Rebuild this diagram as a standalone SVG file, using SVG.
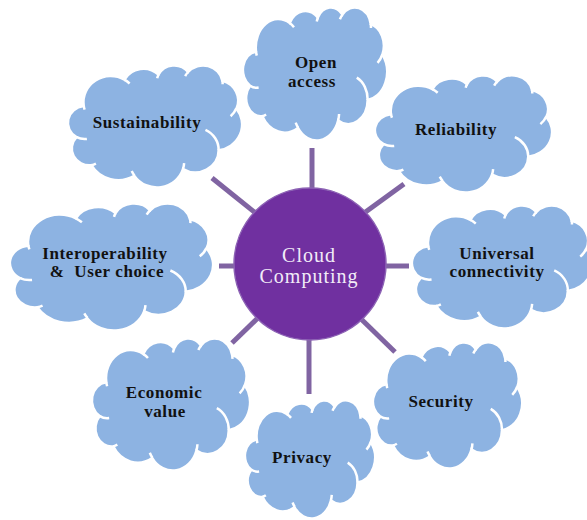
<svg xmlns="http://www.w3.org/2000/svg" xmlns:xlink="http://www.w3.org/1999/xlink" width="587" height="520" viewBox="0 0 587 520">
<style>
.cf{fill:#8DB3E2;stroke:#FFFFFF;stroke-width:2.5}
.ci{fill:none;stroke:#FFFFFF;stroke-width:2.5}
.lbl{font-family:"Liberation Serif","Times New Roman",serif;font-weight:bold;font-size:17px;letter-spacing:0.6px;fill:#111111;text-anchor:middle}
.ctr{font-family:"Liberation Serif","Times New Roman",serif;font-size:20px;letter-spacing:1px;fill:#F2ECF8;text-anchor:middle}
.conn{stroke:#8064A2;stroke-width:5;fill:none}
</style>
<defs>
<path id="cloud" vector-effect="non-scaling-stroke" d="M39,143.7 A67.5 91.9 0 0 1 140.1,52 A53.3 72.7 0 0 1 224.6,34.3 A43.7 59.5 0 0 1 298.3,24.8 A48.6 66 0 0 1 383.2,55.8 A53.3 72.7 0 0 1 418.2,154.6 A67.8 92.2 0 0 1 374,302.1 A57.9 78.7 0 0 1 285.6,368.2 A67.5 92.2 0 0 1 164.8,392.7 A77.2 105.4 0 0 1 58,354.7 A43.6 59.2 0 0 1 21.1,255.5 A43.5 59.5 0 0 1 38.6,145.1 Z"/>
<path id="cloudInner" vector-effect="non-scaling-stroke" d="M46.9,261.8 A43.5 59.5 0 0 1 21.1,255.5 M69.3,349 A43.6 59.2 0 0 1 58,354.7 M164.8,390.9 A67.5 92.2 0 0 1 158.1,375.3 M288.3,347.5 A67.5 92.2 0 0 1 285.6,368.2 M341.3,229.5 A57.9 78.7 0 0 1 374,302.1 M418,153.5 A53.3 72.7 0 0 1 403.7,181.4 M383.2,54.3 A48.6 66 0 0 1 383.9,68.4 M290.8,39.5 A48.6 66 0 0 1 298.3,24.8 M221.4,47.2 A43.7 59.5 0 0 1 224.6,34.3 M140,51.9 A67.5 91.9 0 0 1 153,65.5 M41.3,157.9 A67.5 91.9 0 0 1 39,143.7"/>
</defs>
<g id="connectors">
<line class="conn" x1="312" y1="148" x2="312" y2="192"/>
<line class="conn" x1="384" y1="266" x2="409" y2="266"/>
<line class="conn" x1="309" y1="336" x2="309" y2="394"/>
<line class="conn" x1="219" y1="266" x2="236" y2="266"/>
<line class="conn" x1="212" y1="178" x2="258" y2="215"/>
<line class="conn" x1="404" y1="184" x2="360" y2="216"/>
<line class="conn" x1="358" y1="316" x2="395" y2="352"/>
<line class="conn" x1="232" y1="343" x2="262" y2="314"/>
</g>
<g id="center">
<circle cx="310" cy="264" r="76" fill="#7030A0" stroke="#8C62B4" stroke-width="1.5"/>
<text class="ctr" x="309" y="262">Cloud</text>
<text class="ctr" x="309" y="283">Computing</text>
</g>
<g id="open-access">
<g transform="translate(243,7) scale(0.3333,0.3079)"><use xlink:href="#cloud" class="cf"/><use xlink:href="#cloudInner" class="ci"/></g>
<text class="lbl" x="316" y="68">Open</text>
<text class="lbl" x="312" y="87">access</text>
</g>
<g id="sustainability">
<g transform="translate(68,65) scale(0.4028,0.2824)"><use xlink:href="#cloud" class="cf"/><use xlink:href="#cloudInner" class="ci"/></g>
<text class="lbl" x="147" y="128">Sustainability</text>
</g>
<g id="reliability">
<g transform="translate(375,75) scale(0.4097,0.2708)"><use xlink:href="#cloud" class="cf"/><use xlink:href="#cloudInner" class="ci"/></g>
<text class="lbl" x="456" y="135">Reliability</text>
</g>
<g id="interoperability">
<g transform="translate(10,203) scale(0.4699,0.294)"><use xlink:href="#cloud" class="cf"/><use xlink:href="#cloudInner" class="ci"/></g>
<text class="lbl" x="105" y="259">Interoperability</text>
<text class="lbl" x="107" y="277">&amp;&#160; User choice</text>
</g>
<g id="universal-connectivity">
<g transform="translate(412,205) scale(0.4167,0.2847)"><use xlink:href="#cloud" class="cf"/><use xlink:href="#cloudInner" class="ci"/></g>
<text class="lbl" x="497" y="259">Universal</text>
<text class="lbl" x="497" y="277">connectivity</text>
</g>
<g id="economic-value">
<g transform="translate(92,338) scale(0.3657,0.3056)"><use xlink:href="#cloud" class="cf"/><use xlink:href="#cloudInner" class="ci"/></g>
<text class="lbl" x="164" y="398">Economic</text>
<text class="lbl" x="165" y="417">value</text>
</g>
<g id="security">
<g transform="translate(373,342) scale(0.3449,0.2917)"><use xlink:href="#cloud" class="cf"/><use xlink:href="#cloudInner" class="ci"/></g>
<text class="lbl" x="441" y="407">Security</text>
</g>
<g id="privacy">
<g transform="translate(245,400) scale(0.3009,0.2731)"><use xlink:href="#cloud" class="cf"/><use xlink:href="#cloudInner" class="ci"/></g>
<text class="lbl" x="302" y="463">Privacy</text>
</g>
</svg>
